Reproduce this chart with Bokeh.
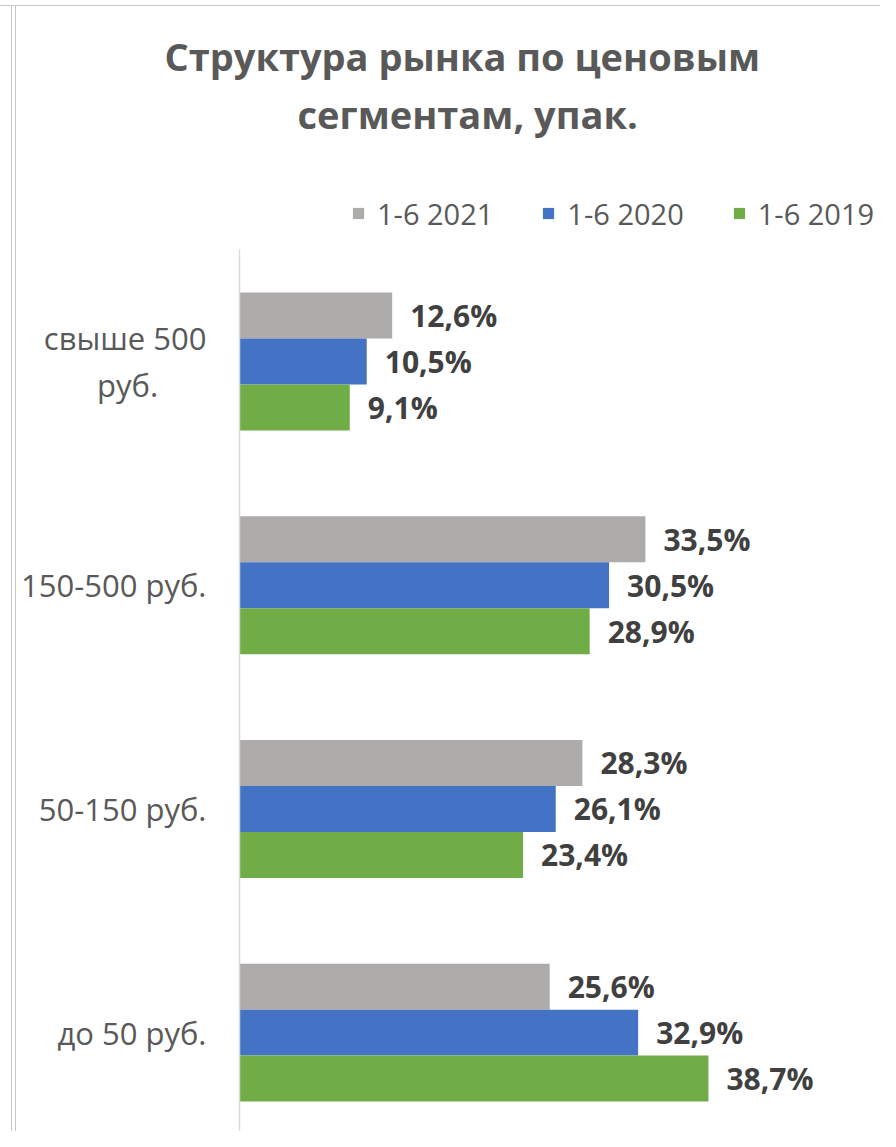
from bokeh.plotting import figure
from bokeh.models import (Range1d, FixedTicker, Legend, LegendItem, Title, ColumnDataSource)
from bokeh.embed import file_html
from bokeh.resources import INLINE
from bokeh.core.properties import value

categories = ["свыше 500 руб.", "150-500 руб.", "50-150 руб.", "до 50 руб."]
series_names = ["1-6 2021", "1-6 2020", "1-6 2019"]
v2021 = [12.6, 33.5, 28.3, 25.6]
v2020 = [10.5, 30.5, 26.1, 32.9]
v2019 = [9.1, 28.9, 23.4, 38.7]
series_values = [v2021, v2020, v2019]
colors = ["#AEABAB", "#4472C4", "#70AD47"]
title_lines = ["Структура рынка по ценовым", "сегментам, упак."]

FONT = "Open Sans"
W, H = 880, 1131
LEFT, TOP = 239, 179
BAR_H = 0.2056
NB = "\u00a0"


def display_label(c):
    # Excel wraps the long label onto two centred lines
    if c.startswith("свыше"):
        a, b = c.rsplit(" ", 1)
        return a + "\n" + b + NB * 6
    return c


p = figure(width=W, height=H, output_backend="svg", toolbar_location=None,
           x_range=Range1d(0, 52.9), y_range=Range1d(3.442, -0.8136),
           min_border_left=LEFT, min_border_right=0, min_border_bottom=0,
           min_border_top=TOP)
p.title.visible = False
p.outline_line_color = None
p.xgrid.visible = False
p.ygrid.visible = False
p.xaxis.visible = False
p.border_fill_color = None
p.background_fill_color = None
# thin chart-area border of the original (top edge + double left edge)
p.styles = {"box-shadow": ("inset 0 5px 0 0 #ffffff, inset 0 6px 0 0 #C8C8C8, "
                           "inset 11px 0 0 0 #ffffff, inset 12px 0 0 0 #C8C8C8, "
                           "inset 15px 0 0 0 #ffffff, inset 16px 0 0 0 #C8C8C8")}

idx = list(range(len(categories)))
renderers = []
for k, (name, vals, col) in enumerate(zip(series_names, series_values, colors)):
    ys = [i + (k - 1) * BAR_H for i in idx]
    src = ColumnDataSource(dict(y=ys, x=vals,
                                lab=[("%.1f" % v).replace(".", ",") + "%" for v in vals]))
    r = p.hbar(y="y", right="x", left=0, height=BAR_H, source=src,
               fill_color=col, line_color=None)
    renderers.append(r)
    p.text(x="x", y="y", text="lab", source=src, x_offset=18,
           text_baseline="middle", text_align="left",
           text_font=value(FONT), text_font_size="30px", text_font_style="bold",
           text_color="#404040")

yax = p.yaxis[0]
yax.ticker = FixedTicker(ticks=idx)
yax.major_label_overrides = {i: display_label(c) for i, c in zip(idx, categories)}
yax.bounds = (-0.5, 3.442)
yax.axis_line_color = "#D9D9D9"
yax.axis_line_width = 1.5
yax.major_tick_line_color = None
yax.minor_tick_line_color = None
yax.major_tick_out = 0
yax.major_tick_in = 0
yax.major_label_standoff = 33
yax.major_label_text_font = FONT
yax.major_label_text_font_size = "31px"
yax.major_label_text_line_height = 1.1
yax.major_label_text_color = "#595959"

legend = Legend(items=[LegendItem(label=n, renderers=[r]) for n, r in zip(series_names, renderers)],
                orientation="horizontal", location=(112, 898.5),
                glyph_width=14, glyph_height=14, label_standoff=12, spacing=48,
                label_text_font=FONT, label_text_font_size="29px",
                label_text_color="#595959", border_line_color=None,
                padding=0, margin=0, background_fill_alpha=0)
p.add_layout(legend, "center")

# title: blank spacer panel between the frame and the two title lines
spacer = Title(text=" ", text_font_size="1px", standoff=35, text_color="#ffffff")
t2 = Title(text=title_lines[1], align="left", offset=58, standoff=4,
           text_font=FONT, text_font_size="38px", text_font_style="bold",
           text_color="#595959")
t1 = Title(text=title_lines[0], align="left", offset=-75, standoff=4,
           text_font=FONT, text_font_size="38px", text_font_style="bold",
           text_color="#595959")
p.add_layout(spacer, "above")
p.add_layout(t2, "above")
p.add_layout(t1, "above")

open("out.html", "w").write(file_html(p, INLINE))
